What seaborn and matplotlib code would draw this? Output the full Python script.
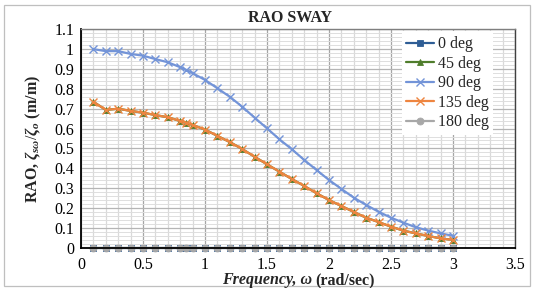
import numpy as np
import pandas as pd
import matplotlib
matplotlib.use("Agg")
import matplotlib.pyplot as plt
from matplotlib.ticker import MultipleLocator
from matplotlib.patches import Rectangle
import seaborn as sns

# ---- data ----
freq = [0.1, 0.2, 0.3, 0.4, 0.5, 0.6, 0.7, 0.8, 0.85, 0.9, 1.0, 1.1, 1.2, 1.3, 1.4,
        1.5, 1.6, 1.7, 1.8, 1.9, 2.0, 2.1, 2.2, 2.3, 2.4, 2.5, 2.6, 2.7, 2.8, 2.9, 3.0]
rao_0 = [0.0] * len(freq)
rao_90 = [1.0, 0.99, 0.99, 0.976, 0.967, 0.95, 0.934, 0.909, 0.895, 0.879, 0.845, 0.803,
          0.76, 0.71, 0.655, 0.601, 0.546, 0.496, 0.442, 0.391, 0.341, 0.296, 0.252,
          0.215, 0.181, 0.151, 0.126, 0.103, 0.086, 0.072, 0.06]
rao_135 = [0.735, 0.694, 0.70, 0.689, 0.68, 0.668, 0.657, 0.638, 0.63, 0.618, 0.595,
           0.563, 0.532, 0.497, 0.458, 0.42, 0.383, 0.346, 0.311, 0.274, 0.24, 0.21,
           0.18, 0.151, 0.129, 0.106, 0.086, 0.072, 0.059, 0.047, 0.039]
rao_45 = list(rao_135)
rao_180 = [0.0] * len(freq)

series_names = ["0 deg", "45 deg", "90 deg", "135 deg", "180 deg"]
series_vals = [rao_0, rao_45, rao_90, rao_135, rao_180]

colors = ["#2E5D95", "#4F7D2C", "#7394D8", "#EE8540", "#A8A8A8"]
markers = ["s", "^", "x", "x", "o"]

df = pd.concat([pd.DataFrame({"freq": freq, "rao": v, "series": n})
                for n, v in zip(series_names, series_vals)], ignore_index=True)

# ---- style ----
sns.set_theme(style="white")
plt.rcParams["font.family"] = ["Liberation Serif", "DejaVu Serif"]
plt.rcParams["mathtext.fontset"] = "custom"
plt.rcParams["mathtext.rm"] = "Liberation Serif"
plt.rcParams["mathtext.it"] = "Liberation Serif:italic:bold"
plt.rcParams["mathtext.bf"] = "Liberation Serif:bold"

FS = 11.5

fig = plt.figure(figsize=(5.34, 2.88), dpi=100)
ax = fig.add_axes([81 / 534, 1 - 247.7 / 288, 434 / 534, 218.4 / 288])

for name, c, m in zip(series_names, colors, markers):
    sub = df[df["series"] == name]
    zero = name in ("0 deg", "180 deg")
    sns.lineplot(data=sub, x="freq", y="rao", ax=ax, color=c, marker=m,
                 markersize=5 if m != "x" else 5.5,
                 markeredgewidth=1.0 if m == "x" else 0.6,
                 markeredgecolor=c, linewidth=1.6, label=name, clip_on=False,
                 zorder=2.2 if zero else 3, legend=False)

ax.set_xlim(0, 3.5)
ax.set_ylim(0, 1.1)
ax.xaxis.set_major_locator(MultipleLocator(0.5))
ax.xaxis.set_minor_locator(MultipleLocator(0.1))
ax.yaxis.set_major_locator(MultipleLocator(0.1))
ax.yaxis.set_minor_locator(MultipleLocator(0.02))

ax.grid(True, which="major", axis="x", color="#A6A6A6", linewidth=0.9)
ax.grid(True, which="minor", axis="x", color="#D9D9D9", linewidth=0.9)
ax.grid(True, which="major", axis="y", color="#B5B5B5", linewidth=0.9)
ax.grid(True, which="minor", axis="y", color="#DEDEDE", linewidth=0.7)
ax.set_axisbelow(True)

def fmt(v, _):
    s = f"{v:.1f}"
    if s.endswith(".0"):
        s = s[:-2]
    return s

ax.xaxis.set_major_formatter(plt.FuncFormatter(fmt))
ax.yaxis.set_major_formatter(plt.FuncFormatter(fmt))

ax.tick_params(axis="both", which="major", direction="inout", length=6, width=1.0,
               color="black", labelsize=FS, pad=2, labelcolor="black")
ax.tick_params(axis="both", which="minor", direction="inout", length=5, width=0.9,
               color="black")
ax.tick_params(axis="x", which="major", pad=4)
ax.tick_params(axis="x", which="minor", direction="out", length=4)

for s in ["left", "bottom"]:
    ax.spines[s].set_color("black")
    ax.spines[s].set_linewidth(1.3)
    ax.spines[s].set_zorder(2.5)
ax.spines["top"].set_color("#7F7F7F")
ax.spines["top"].set_linewidth(1.0)
ax.spines["right"].set_color("#404040")
ax.spines["right"].set_linewidth(1.0)

ax.set_xlabel("")
ax.set_ylabel(r"RAO, $\zeta_{s\omega}/\zeta_{o}$ (m/m)", fontsize=FS,
              fontweight="bold")
ax.yaxis.set_label_coords(-0.088, 0.5)

# title
fig.text(290 / 534, 1 - 18 / 288, "RAO SWAY", ha="center", va="center",
         fontsize=FS, fontweight="bold")

# x label: bold italic part + bold part
fig.text(312 / 534, 1 - 280.5 / 288, "Frequency, ω", ha="right", va="center",
         fontsize=FS, fontweight="bold", fontstyle="italic")
fig.text(315 / 534, 1 - 280.5 / 288, "(rad/sec)", ha="left", va="center",
         fontsize=FS, fontweight="bold")

# legend
handles, labels = ax.get_legend_handles_labels()
leg = ax.legend(handles, labels, loc="upper right", bbox_to_anchor=(0.95, 0.99),
                borderaxespad=0, frameon=True, fancybox=False, fontsize=FS,
                handlelength=1.75, handletextpad=0.2, labelspacing=0.22,
                borderpad=0.3)
leg.get_frame().set_facecolor("white")
leg.get_frame().set_edgecolor("none")
leg.get_frame().set_alpha(1)

# chart border
fig.patches.append(Rectangle((4 / 534, 2 / 288), 526 / 534, 281 / 288,
                             transform=fig.transFigure, fill=False,
                             edgecolor="#BFBFBF", linewidth=0.9))

fig.savefig("out.png", dpi=100)
